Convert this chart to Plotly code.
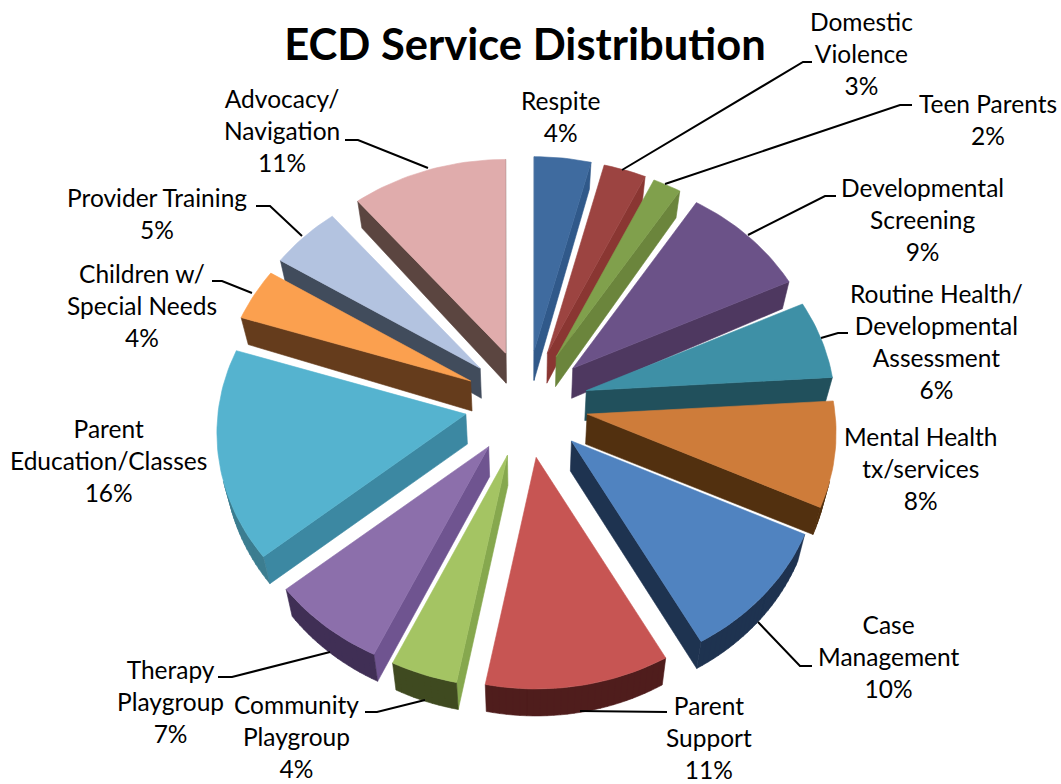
import math
import plotly.graph_objects as go

# Service shares, clockwise from twelve o'clock
categories = ["Respite", "Domestic Violence", "Teen Parents", "Developmental Screening",
              "Routine Health/Developmental Assessment", "Mental Health tx/services",
              "Case Management", "Parent Support", "Community Playgroup", "Therapy Playgroup",
              "Parent Education/Classes", "Children w/ Special Needs", "Provider Training",
              "Advocacy/Navigation"]
shares = [4, 3, 2, 9, 6, 8, 10, 11, 4, 7, 16, 4, 5, 11]

top_colors = ["#3f6b9f", "#9c4441", "#80a04c", "#6b5288", "#3e90a6", "#ce7c3a", "#5083c0",
              "#c75553", "#a4c463", "#8c6fab", "#55b3cf", "#fba04f", "#b3c3e0", "#e0acac"]
side_colors = ["#30598a", "#8a3632", "#6b853c", "#4e3860", "#21505c", "#52300f", "#1e3350",
               "#4f1d1c", "#86a84e", "#6f5490", "#3c88a2", "#653c1c", "#414c5c", "#5b4540"]
rim_colors = ["#30598a", "#8a3632", "#6b853c", "#4e3860", "#21505c", "#52300f", "#1e3350",
              "#4f1d1c", "#3f4a20", "#402f55", "#3c7d90", "#653c1c", "#414c5c", "#5b4540"]

# Label text with the centre of its block
labels = [
    ("Respite<br>4%", 560, 116),
    ("Domestic<br>Violence<br>3%", 861, 53),
    ("Teen Parents<br>2%", 988, 119),
    ("Developmental<br>Screening<br>9%", 922, 219),
    ("Routine Health/<br>Developmental<br>Assessment<br>6%", 936, 341),
    ("Mental Health<br>tx/services<br>8%", 921, 468),
    ("Case<br>Management<br>10%", 888, 656),
    ("Parent<br>Support<br>11%", 709, 737),
    ("Community<br>Playgroup<br>4%", 296, 736),
    ("Therapy<br>Playgroup<br>7%", 170, 701),
    ("Parent<br>Education/Classes<br>16%", 108, 460),
    ("Children w/<br>Special Needs<br>4%", 142, 305),
    ("Provider Training<br>5%", 157, 213),
    ("Advocacy/<br>Navigation<br>11%", 282, 130),
]

# Leader lines from wedge to label
leaders = [
    [(622, 170), (803, 62), (812, 62)],
    [(665, 184), (900, 105), (912, 105)],
    [(748, 235), (825, 196), (836, 196)],
    [(821, 338), (838, 333), (848, 333)],
    [(758, 622), (800, 666), (812, 666)],
    [(580, 711), (667, 712)],
    [(425, 700), (377, 712), (365, 712)],
    [(330, 652), (232, 677), (218, 677)],
    [(252, 293), (222, 281), (212, 281)],
    [(302, 236), (270, 206), (256, 206)],
    [(428, 168), (358, 140), (345, 140)],
]

# Projection of the tilted, exploded pie
CX, CY = 526.5, 404.0
EXPLODE_X, EXPLODE_Y = 61.7, 54.0
RX, RY = 248.0, 211.0
PERSPECTIVE = 0.089
DEPTH_APEX, DEPTH_RIM = 30.0, 27.0
TAPER = 0.975


def rim_offset(theta):
    toward_viewer = -math.cos(theta)
    scale = 1.0 / (1.0 - PERSPECTIVE * toward_viewer)
    return RX * math.sin(theta) * scale, RY * toward_viewer * scale


def lower(point, depth):
    return CX + (point[0] - CX) * TAPER, point[1] + depth


def polygons_to_xy(polys):
    xs, ys = [], []
    for poly in polys:
        xs += [p[0] for p in poly] + [poly[0][0], None]
        ys += [p[1] for p in poly] + [poly[0][1], None]
    return xs, ys


def add_fill(fig, polys, color):
    if not polys:
        return
    xs, ys = polygons_to_xy(polys)
    fig.add_trace(go.Scatter(x=xs, y=ys, mode="lines", fill="toself", fillcolor=color,
                             line=dict(color=color, width=0.6), hoverinfo="skip",
                             showlegend=False))


def faces_viewer(a, b, inside):
    # True when the wall hanging from edge a-b points down the screen
    ex, ey = b[0] - a[0], b[1] - a[1]
    nx, ny = ey, -ex
    if nx * (inside[0] - a[0]) + ny * (inside[1] - a[1]) > 0:
        nx, ny = -nx, -ny
    mx, my = (a[0] + b[0]) / 2, (a[1] + b[1]) / 2
    sx, sy = lower((mx, my), DEPTH_RIM)
    return nx * (sx - mx) + ny * (sy - my) > 0


fig = go.Figure()

total = sum(shares)
wedges = []
running = 0
for i, share in enumerate(shares):
    start = 2 * math.pi * running / total
    end = 2 * math.pi * (running + share) / total
    running += share
    wedges.append((-math.cos((start + end) / 2), i, start, end))

# Back wedges first so nearer ones paint over them
for _, i, start, end in sorted(wedges):
    mid = (start + end) / 2
    apex = (CX + EXPLODE_X * math.sin(mid), CY - EXPLODE_Y * math.cos(mid))
    steps = max(6, int((end - start) * 40))
    rim = []
    for k in range(steps + 1):
        ox, oy = rim_offset(start + (end - start) * k / steps)
        rim.append((apex[0] + ox, apex[1] + oy))
    centre = (sum(p[0] for p in rim + [apex]) / (len(rim) + 1),
              sum(p[1] for p in rim + [apex]) / (len(rim) + 1))

    side_polys = []
    for a, b in ((apex, rim[0]), (apex, rim[-1])):
        if faces_viewer(a, b, centre):
            side_polys.append([a, b, lower(b, DEPTH_RIM), lower(a, DEPTH_APEX)])
    add_fill(fig, side_polys, side_colors[i])

    rim_polys = []
    for a, b in zip(rim[:-1], rim[1:]):
        if faces_viewer(a, b, centre):
            rim_polys.append([a, b, lower(b, DEPTH_RIM), lower(a, DEPTH_RIM)])
    add_fill(fig, rim_polys, rim_colors[i])

    add_fill(fig, [[apex] + rim], top_colors[i])

# Leader lines
line_x, line_y = [], []
for path in leaders:
    line_x += [p[0] for p in path] + [None]
    line_y += [p[1] for p in path] + [None]
fig.add_trace(go.Scatter(x=line_x, y=line_y, mode="lines", line=dict(color="black", width=2),
                         hoverinfo="skip", showlegend=False))

# Labels
annotations = [dict(x=x, y=y, xref="x", yref="y", text=text, showarrow=False,
                    xanchor="center", yanchor="middle", align="center",
                    font=dict(family="Lato", size=24.5, color="black"))
               for text, x, y in labels]

fig.update_layout(
    width=1061, height=784, margin=dict(l=0, r=0, t=0, b=0),
    paper_bgcolor="white", plot_bgcolor="white", showlegend=False,
    title=dict(text="<b>ECD Service Distribution</b>", x=525 / 1061, y=1 - 45 / 784,
               xanchor="center", yanchor="middle",
               font=dict(family="Lato", size=43.5, color="black")),
    xaxis=dict(range=[0, 1061], visible=False, fixedrange=True),
    yaxis=dict(range=[784, 0], visible=False, fixedrange=True),
    annotations=annotations,
)

fig.write_html("out.html", config=dict(displayModeBar=False))
